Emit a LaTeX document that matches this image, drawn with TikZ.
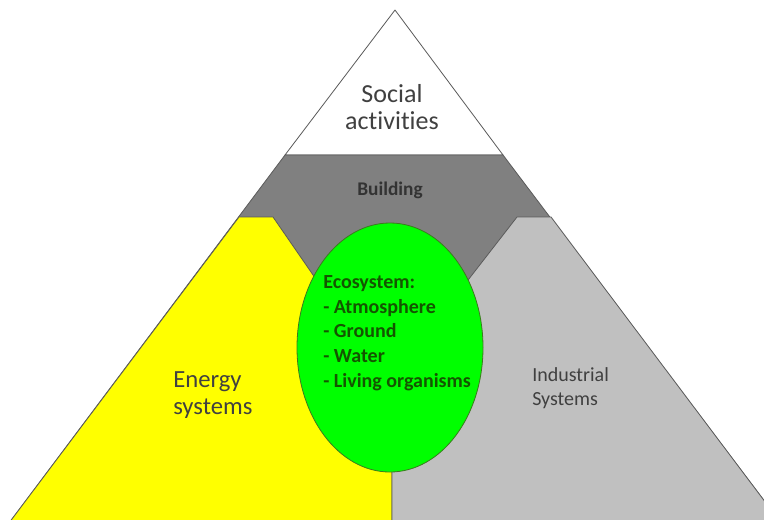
\documentclass[tikz,border=0pt]{standalone}
\usepackage{fontspec}
\setmainfont{Carlito}[Ligatures=NoCommon]
\usetikzlibrary{shapes.geometric}
\definecolor{edgegray}{HTML}{5A5A5A}
\definecolor{buildgray}{HTML}{808080}
\definecolor{industgray}{HTML}{C0C0C0}
\definecolor{energyyellow}{HTML}{FFFF00}
\definecolor{ecogreen}{HTML}{00FF00}
\definecolor{ecoedge}{HTML}{3C7A1E}
\definecolor{textgray}{HTML}{404040}
\definecolor{ecotextgreen}{HTML}{145500}

\begin{document}
\begin{tikzpicture}[%
    x=0.75pt,
    y=-0.75pt,
    part/.style={%
      draw=edgegray,
      line width=0.6pt,
      line join=round
    },
    ecoshape/.style={%
      ellipse,
      draw=ecoedge,
      line width=0.6pt,
      fill=ecogreen,
      inner sep=0pt,
      minimum width=139.5pt,
      minimum height=186.75pt
    },
    caption/.style={%
      text=textgray,
      inner sep=0pt,
      align=left
    }
  ]
    \clip (0,0) rectangle (764,519);
    \fill[white] (0,0) rectangle (764,519);

    % pyramid layers
    \draw[part, fill=white] (395,10) -- (285,155) -- (503,155) -- cycle;
    \draw[part, fill=buildgray] (285,155) -- (503,155) -- (781,523) -- (9,523) -- cycle;
    \draw[part, fill=energyyellow] (239,217) -- (273,217) -- (358,340) -- (392,340)
          -- (392,523) -- (9,523) -- cycle;
    \draw[part, fill=industgray] (551,217) -- (517,217) -- (437,320) -- (392,320)
          -- (392,523) -- (781,523) -- cycle;
    \node[ecoshape] (eco) at (390,347.5) {};

    % labels
    \node[caption, align=center, anchor=north, font=\fontsize{19.5}{20.25}\selectfont] (social)
          at (392,84) {Social\\activities};
    \node[caption, anchor=base, font=\bfseries\fontsize{14.5}{17}\selectfont, text=textgray!80!black] (building)
          at (390,195) {Building};
    \node[caption, anchor=north west, font=\fontsize{18.5}{20.25}\selectfont] (energy)
          at (173,371) {Energy\\systems};
    \node[caption, anchor=north west, font=\fontsize{15}{18}\selectfont] (industrial)
          at (532,367) {Industrial\\Systems};
    \node[caption, anchor=north west, font=\bfseries\fontsize{15}{18.6}\selectfont, text=ecotextgreen] (ecotext)
          at (323,275) {Ecosystem:\\- Atmosphere\\- Ground\\- Water\\- Living organisms};
  \end{tikzpicture}
\end{document}
